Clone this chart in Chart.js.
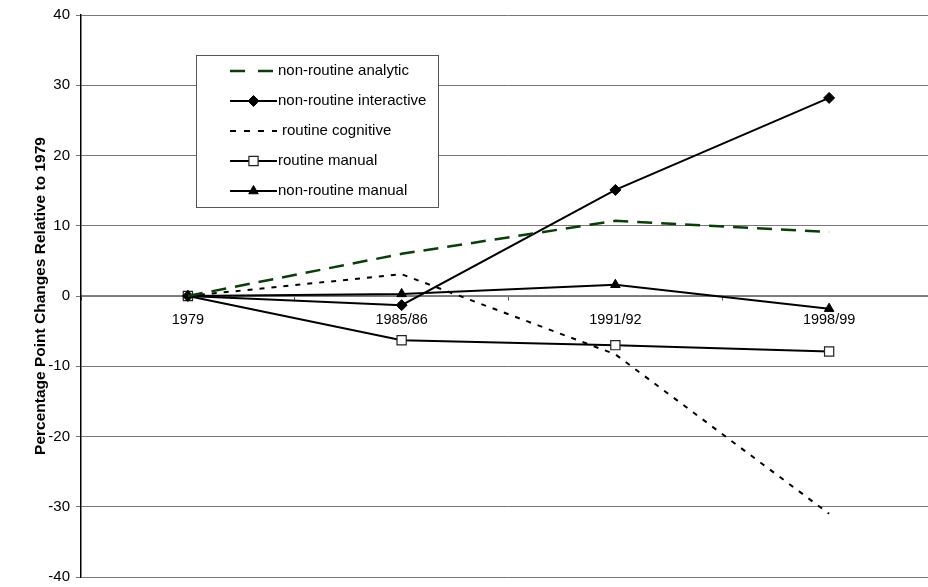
<!DOCTYPE html>
<html>
<head>
<meta charset="utf-8">
<script src="https://cdn.jsdelivr.net/npm/chart.js@4"></script>
<style>
  html, body { margin: 0; padding: 0; background: #fff; overflow: hidden; }
  #wrap { width: 950px; height: 587px; }
</style>
</head>
<body>
<div id="wrap"><canvas id="taskChart"></canvas></div>
<script>
// 데이터
const periods = ['1979', '1985/86', '1991/92', '1998/99'];
const nrAnalytic = [0, 6.0, 10.7, 9.1];
const nrInteractive = [0, -1.3, 15.1, 28.2];
const routineCognitive = [0, 3.1, -8.3, -31.0];
const routineManual = [0, -6.3, -7.0, -7.9];
const nrManual = [0, 0.3, 1.6, -1.8];
const yTicks = [-40, -30, -20, -10, 0, 10, 20, 30, 40];

const FONT = 'Arial, "Liberation Sans", sans-serif';

// 범례 (차트 영역 안에 박스)
const boxLegend = {
    id: 'boxLegend',
    afterDraw(chart) {
        const ctx = chart.ctx;
        const x0 = 196, y0 = 55, w = 242, h = 152;
        ctx.save();
        ctx.fillStyle = '#fff';
        ctx.fillRect(x0, y0, w, h);
        ctx.strokeStyle = '#555';
        ctx.lineWidth = 1;
        ctx.strokeRect(x0 + 0.5, y0 + 0.5, w, h);
        chart.data.datasets.forEach((ds, i) => {
            const y = 71 + i * 30;
            ctx.strokeStyle = ds.borderColor;
            ctx.lineWidth = ds.borderWidth;
            ctx.setLineDash(ds.legendDash || ds.borderDash || []);
            ctx.beginPath();
            ctx.moveTo(230, y);
            ctx.lineTo(277, y);
            ctx.stroke();
            ctx.setLineDash([]);
            if (ds.pointRadius > 0) {
                ctx.fillStyle = ds.pointBackgroundColor;
                ctx.strokeStyle = ds.pointBorderColor;
                ctx.lineWidth = ds.pointBorderWidth || 1;
                Chart.helpers.drawPoint(ctx, {
                    pointStyle: ds.pointStyle,
                    radius: ds.pointRadius,
                    borderWidth: ds.pointBorderWidth || 1
                }, 253.5, y);
            }
            ctx.fillStyle = '#000';
            ctx.font = '15px ' + FONT;
            ctx.textBaseline = 'middle';
            ctx.textAlign = 'left';
            ctx.fillText(ds.label, ds.label === 'routine cognitive' ? 282 : 278, y);
        });
        ctx.restore();
    }
};

let ctx = document.getElementById('taskChart').getContext('2d');
let taskChart = new Chart(ctx, {
    type: 'line',
    data: {
        labels: periods,
        datasets: [
            { label: 'non-routine analytic', data: nrAnalytic, borderColor: '#0b3d0b', borderWidth: 2.5,
              borderDash: [15, 9], legendDash: [15, 13], pointRadius: 0, fill: false },
            { label: 'non-routine interactive', data: nrInteractive, borderColor: '#000', borderWidth: 2,
              pointStyle: 'rectRot', pointRadius: 5.5, pointBackgroundColor: '#000', pointBorderColor: '#000', pointBorderWidth: 1, fill: false },
            { label: 'routine cognitive', data: routineCognitive, borderColor: '#000', borderWidth: 2,
              borderDash: [5, 7], legendDash: [6, 8], pointRadius: 0, fill: false },
            { label: 'routine manual', data: routineManual, borderColor: '#000', borderWidth: 2,
              pointStyle: 'rect', pointRadius: 6.5, pointBackgroundColor: '#fff', pointBorderColor: '#222', pointBorderWidth: 1.2, fill: false },
            { label: 'non-routine manual', data: nrManual, borderColor: '#000', borderWidth: 2,
              pointStyle: 'triangle', pointRadius: 5.5, pointBackgroundColor: '#000', pointBorderColor: '#000', pointBorderWidth: 1, fill: false }
        ]
    },
    options: {
        responsive: true,
        maintainAspectRatio: false,
        animation: false,
        layout: { padding: { top: 15, right: 14, bottom: 10, left: 0 } },
        plugins: { legend: { display: false }, tooltip: { enabled: false } },
        elements: { line: { tension: 0 } },
        scales: {
            x: {
                type: 'category',
                position: { y: 0 },
                offset: true,
                border: { color: '#808080', width: 1.5 },
                grid: { offset: true, drawOnChartArea: false, drawTicks: true, tickLength: 4, color: '#555' },
                ticks: { color: '#000', font: { family: FONT, size: 14.5 }, padding: 11, maxRotation: 0 }
            },
            y: {
                min: -40,
                max: 40,
                afterBuildTicks: (s) => { s.ticks = yTicks.map(v => ({ value: v })); },
                afterFit: (s) => { s.width = 81; s.paddingTop = 0; s.paddingBottom = 0; },
                border: { color: '#000', width: 1.5 },
                grid: { color: '#777', lineWidth: 1, tickLength: 5 },
                ticks: { color: '#000', font: { family: FONT, size: 15 }, padding: 6 },
                title: { display: true, text: 'Percentage Point Changes Relative to 1979', color: '#000',
                         font: { family: FONT, size: 15.5, weight: 'bold' }, padding: { top: 31, bottom: 0 } }
            }
        }
    },
    plugins: [boxLegend]
});
</script>
</body>
</html>
